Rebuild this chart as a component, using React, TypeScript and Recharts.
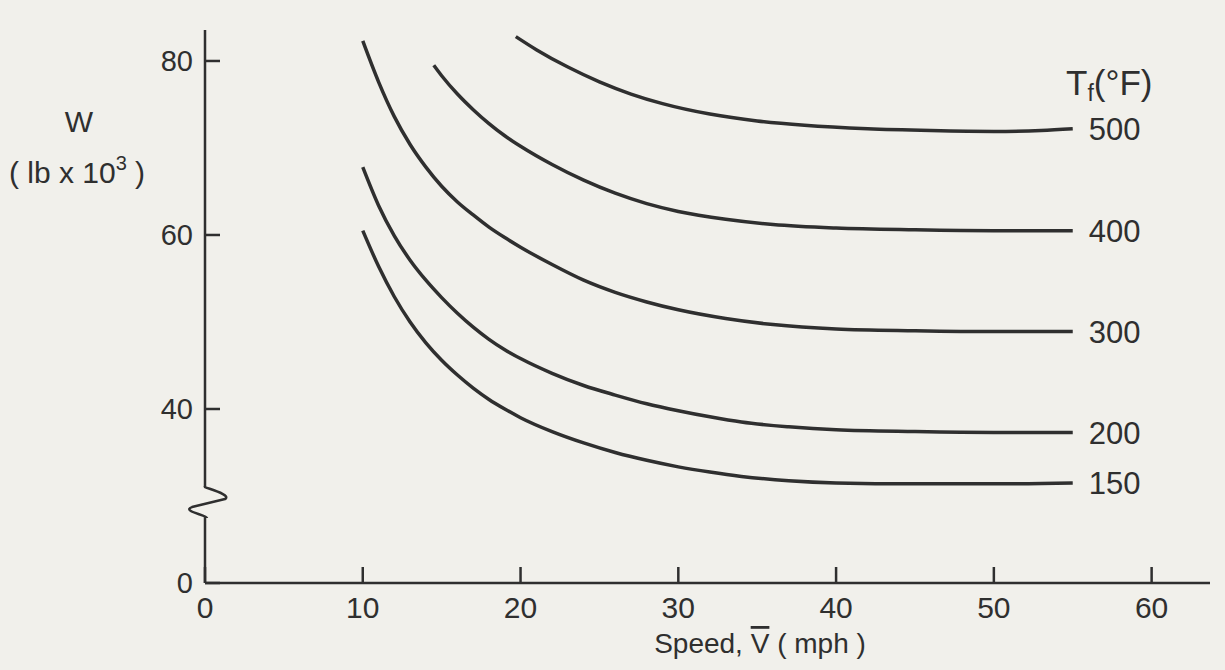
import { LineChart, Line, XAxis, YAxis, ReferenceDot, LabelList } from 'recharts'

// speed (mph) vs. W (lb x 10^3), one curve per fluid temperature Tf
const temps = ['500', '400', '300', '200', '150']

const speed500 = [19.7, 21, 23, 25, 27, 29, 32, 35, 38, 42, 46, 50, 53, 55]
const w500 = [82.8, 81.3, 79.3, 77.6, 76.2, 75.1, 73.9, 73.1, 72.6, 72.2, 72.0, 71.9, 72.0, 72.2]

const speed400 = [14.5, 15, 16, 17, 18, 19, 20, 22, 24, 26, 28, 30, 33, 36, 40, 45, 50, 55]
const w400 = [79.5, 78.3, 76.2, 74.4, 72.8, 71.4, 70.2, 68.1, 66.3, 64.8, 63.6, 62.7, 61.8, 61.2, 60.8, 60.6, 60.5, 60.5]

const speed300 = [10, 11, 12, 13, 14, 15, 16, 17, 18, 19, 20, 22, 24, 26, 28, 30, 33, 36, 40, 45, 50, 55]
const w300 = [82.3, 77.6, 73.6, 70.4, 67.8, 65.6, 63.8, 62.3, 60.9, 59.7, 58.6, 56.6, 54.8, 53.4, 52.3, 51.4, 50.4, 49.7, 49.2, 49.0, 48.9, 48.9]

const speed200 = [10, 11, 12, 13, 14, 15, 16, 17, 18, 19, 20, 22, 24, 26, 28, 30, 32, 34, 37, 40, 45, 50, 55]
const w200 = [67.8, 63.4, 59.9, 57.1, 54.8, 52.8, 51.0, 49.4, 48.0, 46.8, 45.8, 44.1, 42.7, 41.6, 40.6, 39.8, 39.1, 38.5, 37.95, 37.6, 37.4, 37.3, 37.3]

const speed150 = [10, 11, 12, 13, 14, 15, 16, 17, 18, 19, 20, 22, 24, 26, 28, 30, 32, 34, 37, 40, 45, 50, 55]
const w150 = [60.5, 56.4, 52.9, 50.0, 47.6, 45.6, 43.9, 42.4, 41.1, 40.0, 39.0, 37.4, 36.1, 35.0, 34.1, 33.35, 32.75, 32.25, 31.75, 31.5, 31.4, 31.4, 31.5]

const xTicks = [0, 10, 20, 30, 40, 50, 60]
// the W axis is broken: its lowest tick sits where 20 would be and reads 0
const yTicks = [20, 40, 60, 80]
const yTickLabels = ['0', '40', '60', '80']
const axisBreakAt = 29.3

const toRows = (xs: number[], ys: number[]) => xs.map((v, i) => ({ v, w: ys[i] }))

const series = [
  { name: temps[0], data: toRows(speed500, w500) },
  { name: temps[1], data: toRows(speed400, w400) },
  { name: temps[2], data: toRows(speed300, w300) },
  { name: temps[3], data: toRows(speed200, w200) },
  { name: temps[4], data: toRows(speed150, w150) },
]

const ink = '#2f2f2f'
const paper = '#f1f0eb'
const font = '"Liberation Sans", Arial, sans-serif'

function AxisBreak(props: any) {
  const { cx, cy } = props
  if (cx == null || cy == null) return null
  return (
    <g>
      <rect x={cx - 4} y={cy - 15} width={8} height={30} fill={paper} />
      <path
        d={`M ${cx} ${cy - 16} L ${cx} ${cy - 15} C ${cx + 8} ${cy - 12}, ${cx + 26} ${cy - 7}, ${cx + 20} ${cy - 3} L ${cx - 13} ${cy + 5} C ${cx - 24} ${cy + 9}, ${cx + 2} ${cy + 13}, ${cx + 2} ${cy + 16}`}
        fill="none"
        stroke={ink}
        strokeWidth={2.5}
        strokeLinejoin="round"
      />
    </g>
  )
}

function endLabel(text: string, lastIndex: number) {
  return (props: any) => {
    if (props.index !== lastIndex) return null
    return (
      <text x={props.x + 16} y={props.y} dy="0.36em" fill={ink} fontSize={31} fontFamily={font}>
        {text}
      </text>
    )
  }
}

export default function App() {
  return (
    <div style={{ position: 'absolute', left: 0, top: 0, width: 1225, height: 670, background: paper }}>
      <LineChart
        width={1225}
        height={670}
        margin={{ top: 30, right: 15, bottom: 47, left: 145 }}
      >
        <XAxis
          type="number"
          dataKey="v"
          domain={[0, 63.7]}
          ticks={xTicks}
          interval={0}
          height={40}
          allowDuplicatedCategory={false}
          stroke={ink}
          strokeWidth={2.5}
          tickSize={-16}
          tickMargin={30}
          tick={{ fill: ink, fontSize: 30, fontFamily: font }}
        />
        <YAxis
          type="number"
          domain={[20, 83.56]}
          ticks={yTicks}
          interval={0}
          width={60}
          stroke={ink}
          strokeWidth={2.5}
          tickSize={-15}
          tickMargin={27}
          tickFormatter={(v: number) => yTickLabels[yTicks.indexOf(v)]}
          tick={{ fill: ink, fontSize: 29, fontFamily: font }}
        />
        {series.map((s) => (
          <Line
            key={s.name}
            data={s.data}
            dataKey="w"
            type="monotone"
            stroke={ink}
            strokeWidth={3.5}
            dot={false}
            isAnimationActive={false}
          >
            <LabelList dataKey="w" content={endLabel(s.name, s.data.length - 1)} />
          </Line>
        ))}
        <ReferenceDot x={0} y={axisBreakAt} r={0} shape={AxisBreak} />
      </LineChart>
      <svg
        width={1225}
        height={670}
        style={{ position: 'absolute', left: 0, top: 0, pointerEvents: 'none' }}
        fontFamily={font}
        fill={ink}
      >
        <text x={79} y={132} fontSize={30} textAnchor="middle">W</text>
        <text x={77} y={183} fontSize={30} textAnchor="middle">
          ( lb x 10<tspan fontSize={20} dy={-13}>3</tspan>
          <tspan dy={13}> )</tspan>
        </text>
        <text x={1066} y={95} fontSize={35}>
          T<tspan fontSize={23} dy={6}>f</tspan>
          <tspan dy={-6}>(°F)</tspan>
        </text>
        <text x={760} y={653} fontSize={28} textAnchor="middle">
          Speed, <tspan textDecoration="overline">V</tspan> ( mph )
        </text>
      </svg>
    </div>
  )
}
